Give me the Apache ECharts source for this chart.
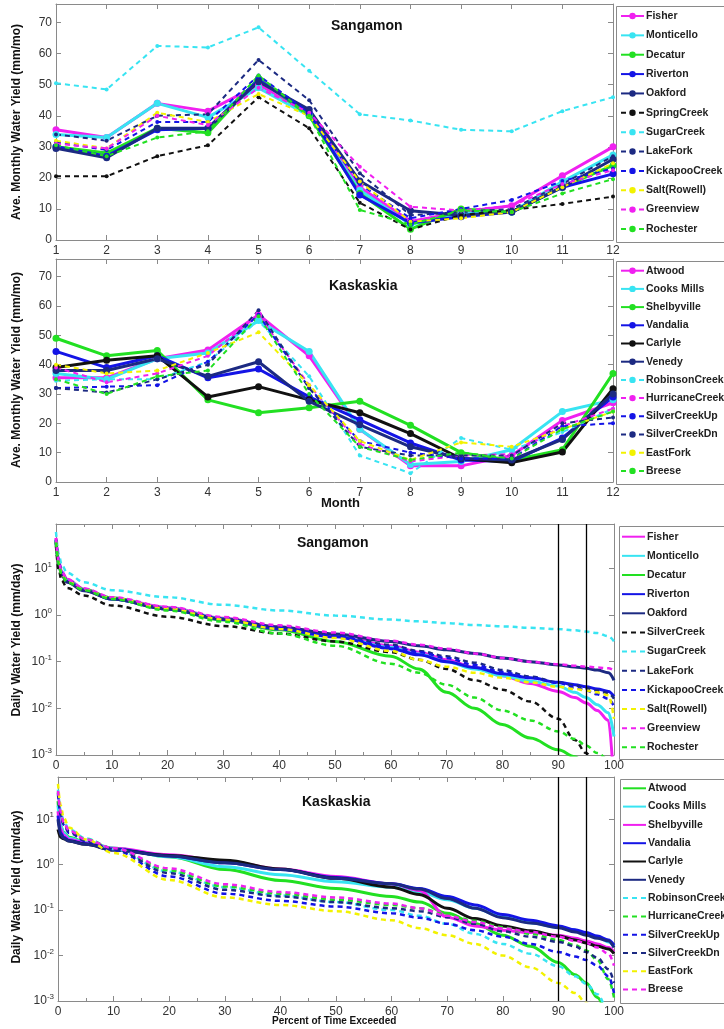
<!DOCTYPE html>
<html><head><meta charset="utf-8">
<script src="https://cdn.jsdelivr.net/npm/echarts@6/dist/echarts.min.js"></script>
<style>html,body{margin:0;padding:0;background:#fff}#c{width:724px;height:1029px}</style>
</head><body><div id="c"></div>
<script>
// ---------- Data ----------
const months = [1,2,3,4,5,6,7,8,9,10,11,12];
const monthTicks = [1,2,3,4,5,6,7,8,9,10,11,12];
const pctTicks = [0,10,20,30,40,50,60,70,80,90,100];
const markPct = [90, 95];

// Sangamon monthly (mm/mo)
const sgNames = ['Fisher','Monticello','Decatur','Riverton','Oakford','SpringCreek','SugarCreek','LakeFork','KickapooCreek','Salt(Rowell)','Greenview','Rochester'];
const sgFisher      = [35.5,33,44,41.5,50,41,17,6,9,11,20.7,30];
const sgMonticello  = [34,33,44,39.5,49,40,16,5,8.5,9,18.8,27.4];
const sgDecatur     = [30,28,36,34.5,52,40,15,3.5,10,9,17,24];
const sgRiverton    = [30,27,35.5,36,51.5,41,14.5,5.5,7.5,9,17,21.3];
const sgOakford     = [29.5,26.5,36,36,51,42,19,9.4,8,9,17,26];
const sgSpringCreek = [20.5,20.5,27,30.5,46,36,12,3.4,8,9.7,11.6,14];
const sgSugarCreek  = [50.5,48.5,62.5,62,68.5,54.5,40.5,38.5,35.5,35,41.5,46];
const sgLakeFork    = [34,32,40,40.5,58,45,21.5,8,9,10,18,27];
const sgKickapoo    = [31.5,29,38,38,53,41,18,7,10,12.9,19,23];
const sgSalt        = [32,29.5,41,38,47,40,18.8,5.9,7,9,17,24.7];
const sgGreenview   = [31,29.5,40,37,49,41,23.6,10.7,9.5,11,18,22.5];
const sgRochester   = [30.5,27,33,35,53,40,9.7,5,9.5,9,15,19.6];

// Kaskaskia monthly (mm/mo)
const kkNames = ['Atwood','Cooks Mills','Shelbyville','Vandalia','Carlyle','Venedy','RobinsonCreek','HurricaneCreek','SilverCreekUp','SilverCreekDn','EastFork','Breese'];
const kkAtwood      = [35.5,35.5,42,45,57,43,18,5.5,5.5,9,21,27];
const kkCooksMills  = [37,35,42,44,55,44.5,18,6,7,11,24,28];
const kkShelbyville = [49,43,44.8,28,23.6,25.3,27.5,19.3,10,7.4,11,37];
const kkVandalia    = [44.5,39,43,35.5,38.5,29,21.2,13.3,7.5,7,15,29];
const kkCarlyle     = [39,41.5,43,29,32.5,28,23.6,16.5,8,6.6,10.2,31.8];
const kkVenedy      = [38,38,42,36,41,27.5,19.5,12,8,7.5,14.5,30];
const kkRobinson    = [34.5,35,35,41,55,36,9,3,15,11,17,25];
const kkHurricane   = [39,34,37,43,57,33,13,7,9,9.5,19,25];
const kkSCUp        = [32,32.5,33,41,57,32,14,10,8,8,19,20];
const kkSCDn        = [32,30.5,35,40,58.5,32,12,9,9,9,20,22];
const kkEastFork    = [40,37,38,44,51,33,14,7.5,13.5,12,18,24];
const kkBreese      = [35,30,36,38,56.5,30,12,7.5,10,8,18,24];

// Flow duration: percent of time exceeded
const pct = [0,0.5,1,2,5,10,20,30,40,50,60,65,70,75,80,85,90,93,95,97,99,100];

// Sangamon daily (mm/day)
const sfNames = ['Fisher','Monticello','Decatur','Riverton','Oakford','SilverCreek','SugarCreek','LakeFork','KickapooCreek','Salt(Rowell)','Greenview','Rochester'];
const sfFisher      = [45,14,8.5,5.8,3.6,2.3,1.45,0.85,0.55,0.37,0.22,0.16,0.11,0.075,0.05,0.034,0.023,0.017,0.013,0.009,0.0055,0.0002];
const sfMonticello  = [40,13,8,5.5,3.5,2.2,1.4,0.83,0.53,0.35,0.2,0.145,0.1,0.07,0.05,0.038,0.03,0.022,0.017,0.012,0.008,0.0025];
const sfDecatur     = [38,12,7.5,5.3,3.5,2.3,1.35,0.78,0.48,0.27,0.13,0.07,0.022,0.01,0.0045,0.0023,0.0013,0.00092,0.0006,0.0004,0.0003,0.0002];
const sfRiverton    = [40,13,7.8,5.3,3.4,2.2,1.35,0.8,0.5,0.34,0.19,0.14,0.1,0.075,0.055,0.045,0.036,0.032,0.029,0.026,0.023,0.018];
const sfOakford     = [36,12,7.2,5,3.3,2.2,1.35,0.82,0.55,0.39,0.27,0.22,0.18,0.15,0.12,0.1,0.085,0.077,0.072,0.066,0.058,0.04];
const sfSilverCreek = [30,9,5.5,3.8,2.6,1.6,0.92,0.58,0.4,0.27,0.16,0.11,0.07,0.04,0.025,0.014,0.006,0.0021,0.0011,0.0005,0.0003,0.0002];
const sfSugarCreek  = [60,20,12,8,5,3.4,2.4,1.65,1.25,0.97,0.8,0.73,0.67,0.61,0.57,0.53,0.5,0.47,0.44,0.41,0.35,0.27];
const sfLakeFork    = [42,14,8.2,5.6,3.6,2.3,1.45,0.86,0.56,0.38,0.23,0.17,0.13,0.095,0.066,0.048,0.036,0.031,0.027,0.024,0.021,0.016];
const sfKickapoo    = [38,13,7.8,5.3,3.5,2.25,1.38,0.82,0.53,0.35,0.21,0.16,0.12,0.085,0.06,0.045,0.035,0.028,0.024,0.02,0.016,0.011];
const sfSalt        = [38,13,7.6,5.3,3.5,2.3,1.38,0.8,0.5,0.32,0.17,0.11,0.078,0.058,0.045,0.036,0.029,0.026,0.024,0.022,0.019,0.006];
const sfGreenview   = [44,14,8.4,5.8,3.7,2.4,1.5,0.9,0.6,0.42,0.28,0.23,0.19,0.15,0.12,0.1,0.088,0.082,0.078,0.075,0.072,0.065];
const sfRochester   = [36,12,7.2,5,3.4,2.2,1.25,0.72,0.4,0.22,0.09,0.058,0.032,0.017,0.009,0.0055,0.0032,0.0022,0.0016,0.0011,0.0008,0.0007];

// Kaskaskia daily (mm/day)
const kfNames = ['Atwood','Cooks Mills','Shelbyville','Vandalia','Carlyle','Venedy','RobinsonCreek','HurricaneCreek','SilverCreekUp','SilverCreekDn','EastFork','Breese'];
const kfAtwood      = [25,7,5.2,4,3.1,2.3,1.5,0.78,0.45,0.3,0.2,0.15,0.085,0.05,0.028,0.016,0.007,0.0038,0.0025,0.0012,0.0005,0.0003];
const kfCooksMills  = [20,7,5,3.8,3.1,2.3,1.5,0.9,0.6,0.42,0.32,0.25,0.17,0.11,0.07,0.053,0.042,0.036,0.031,0.026,0.02,0.016];
const kfShelbyville = [15,6,4.5,3.6,3,2.3,1.65,1.2,0.8,0.55,0.38,0.27,0.07,0.045,0.036,0.032,0.028,0.024,0.021,0.018,0.015,0.012];
const kfVandalia    = [12,5,4,3.4,2.9,2.2,1.55,1.1,0.78,0.52,0.38,0.3,0.2,0.13,0.08,0.06,0.045,0.037,0.032,0.027,0.022,0.017];
const kfCarlyle     = [6,4,3.7,3.3,2.8,2.1,1.6,1.25,0.8,0.5,0.32,0.22,0.11,0.065,0.045,0.035,0.027,0.022,0.019,0.016,0.014,0.011];
const kfVenedy      = [10,4.5,3.8,3.3,2.8,2.1,1.55,1.1,0.78,0.5,0.38,0.29,0.18,0.11,0.068,0.052,0.041,0.033,0.028,0.024,0.021,0.015];
const kfRobinson    = [45,15,9,6,3.8,2.2,0.7,0.32,0.21,0.15,0.1,0.075,0.05,0.03,0.018,0.011,0.0058,0.0035,0.0024,0.0014,0.0006,0.0003];
const kfHurricane   = [40,13,8,5.5,3.6,2.3,0.75,0.33,0.23,0.17,0.13,0.11,0.08,0.058,0.042,0.03,0.022,0.017,0.013,0.008,0.003,0.0012];
const kfSCUp        = [35,12,7.5,5,3.3,2.1,0.55,0.23,0.16,0.12,0.085,0.068,0.05,0.036,0.026,0.018,0.012,0.0095,0.008,0.006,0.0035,0.0015];
const kfSCDn        = [38,13,8,5.3,3.4,2.2,0.65,0.28,0.2,0.15,0.11,0.095,0.07,0.05,0.034,0.026,0.02,0.016,0.012,0.009,0.005,0.0025];
const kfEastFork    = [60,20,11,6.5,3.6,1.8,0.46,0.19,0.13,0.095,0.06,0.04,0.028,0.018,0.01,0.0055,0.0025,0.0015,0.0009,0.0005,0.0003,0.0002];
const kfBreese      = [42,14,8.5,5.6,3.6,2.3,0.83,0.37,0.25,0.19,0.14,0.11,0.075,0.055,0.04,0.033,0.026,0.021,0.019,0.015,0.011,0.006];

// ---------- Styles ----------
const C = {mag:'#f020f0', cyan:'#38e4f2', green:'#22e022', blue:'#1414e6', navy:'#1c2a82', black:'#111111', yellow:'#f2f200'};
const sgColors = [C.mag,C.cyan,C.green,C.blue,C.navy,C.black,C.cyan,C.navy,C.blue,C.yellow,C.mag,C.green];
const kkColors = [C.mag,C.cyan,C.green,C.blue,C.black,C.navy,C.cyan,C.mag,C.blue,C.navy,C.yellow,C.green];
const sfColors = [C.mag,C.cyan,C.green,C.blue,C.navy,C.black,C.cyan,C.navy,C.blue,C.yellow,C.mag,C.green];
const kfColors = [C.green,C.cyan,C.mag,C.blue,C.black,C.navy,C.cyan,C.green,C.blue,C.navy,C.yellow,C.mag];

const sgData = [sgFisher,sgMonticello,sgDecatur,sgRiverton,sgOakford,sgSpringCreek,sgSugarCreek,sgLakeFork,sgKickapoo,sgSalt,sgGreenview,sgRochester];
const kkData = [kkAtwood,kkCooksMills,kkShelbyville,kkVandalia,kkCarlyle,kkVenedy,kkRobinson,kkHurricane,kkSCUp,kkSCDn,kkEastFork,kkBreese];
const sfData = [sfFisher,sfMonticello,sfDecatur,sfRiverton,sfOakford,sfSilverCreek,sfSugarCreek,sfLakeFork,sfKickapoo,sfSalt,sfGreenview,sfRochester];
const kfData = [kfAtwood,kfCooksMills,kfShelbyville,kfVandalia,kfCarlyle,kfVenedy,kfRobinson,kfHurricane,kfSCUp,kfSCDn,kfEastFork,kfBreese];

const FONT = 'Liberation Sans, Arial, Helvetica, sans-serif';
const AX = '#8a8a8a';
const DASH = [5,4];

const grids = [
  {left:56, top:4,   width:557, height:236},
  {left:56, top:259, width:557, height:223},
  {left:56, top:524, width:558, height:231},
  {left:58, top:777, width:556, height:224}
];

const xAxes = [], yAxes = [], series = [];
function lineAxisBase(){ return {axisLine:{show:true,onZero:false,lineStyle:{color:AX,width:1}}, axisTick:{inside:true,length:5,lineStyle:{color:AX}}, splitLine:{show:false}}; }

grids.forEach((g,i)=>{
  const monthly = i<2;
  const xb = monthly ? {type:'value',min:1,max:12,interval:1} : {type:'value',min:0,max:100,interval:10, minorTick:{show:true,splitNumber:2,length:3,lineStyle:{color:AX}}};
  xAxes.push(Object.assign({gridIndex:i, position:'bottom'}, lineAxisBase(), xb, {axisLabel:{color:'#333',fontSize:12,fontFamily:FONT,margin:5}}));
  xAxes.push(Object.assign({gridIndex:i, position:'top'}, lineAxisBase(), xb, {axisLabel:{show:false}}));
  let yb;
  if (monthly) yb = {type:'value',min:0,max:76,interval:10};
  else yb = {type:'log',logBase:10,min:0.001,max:(i===2?89:85)};
  const lab = monthly ? {color:'#333',fontSize:12,fontFamily:FONT,margin:4,showMaxLabel:false}
    : {color:'#333',fontSize:12,fontFamily:FONT,margin:4,showMaxLabel:false,
       formatter:v=>'10{e|'+Math.round(Math.log10(v))+'}', rich:{e:{fontSize:8,verticalAlign:'top',padding:[0,0,8,0],fontFamily:FONT,color:'#333'}}};
  yAxes.push(Object.assign({gridIndex:i, position:'left'}, lineAxisBase(), yb, {axisLabel:lab}));
  yAxes.push(Object.assign({gridIndex:i, position:'right'}, lineAxisBase(), yb, {axisLabel:{show:false}}));
});

function addMonthly(gi, names, colors, data, suffix){
  names.forEach((n,k)=>{
    const solid = k < (gi===0?5:6);
    series.push({
      type:'line', name:n+suffix, xAxisIndex:gi*2, yAxisIndex:gi*2,
      data: months.map((m,j)=>[m, data[k][j]]),
      symbol:'circle', symbolSize: solid?7:4, showSymbol:true,
      itemStyle:{color:colors[k]},
      lineStyle:{color:colors[k], width: solid?3:2, type: solid?'solid':DASH},
      z: 2
    });
  });
}
function addFdc(gi, names, colors, data, suffix){
  const nSolid = gi===2?5:6;
  names.forEach((n,k)=>{
    const solid = k < nSolid;
    const s = {
      type:'line', name:n+suffix, xAxisIndex:gi*2, yAxisIndex:gi*2,
      data: pct.map((p,j)=>[p, data[k][j]]),
      symbol:'none', showSymbol:false, smooth:0.35, smoothMonotone:'x', clip:true,
      itemStyle:{color:colors[k]},
      lineStyle:{color:colors[k], width: solid?3:2.5, type: solid?'solid':DASH}
    };
    if (k===0) s.markLine = {silent:true, symbol:['none','none'], label:{show:false},
      lineStyle:{color:'#000',width:1.3,type:'solid'}, data: markPct.map(v=>({xAxis:v}))};
    series.push(s);
  });
}
addMonthly(0, sgNames, sgColors, sgData, '');
addMonthly(1, kkNames, kkColors, kkData, '');
addFdc(2, sfNames, sfColors, sfData, ' ');
addFdc(3, kfNames, kfColors, kfData, ' ');

function legend(names, suffix, left, top, gap, fdc){
  return {data:names.map(n=>({name:n+suffix})), orient:'vertical', left:left, top:top, padding:0, itemGap:gap,
    itemWidth:23, itemHeight: fdc?10:8, selectedMode:false,
    itemStyle: fdc?{opacity:0}:{},
    textStyle:{fontSize:10.5,fontWeight:'bold',fontFamily:FONT,color:'#222',lineHeight:12,padding:[0,0,0,-3]}};
}

const titleStyle = {fontFamily:FONT,fontWeight:'bold',fontSize:14,color:'#111'};
const option = {
  animation:false,
  backgroundColor:'#fff',
  grid: grids,
  xAxis: xAxes,
  yAxis: yAxes,
  series: series,
  legend: [
    legend(sgNames,'',620,10,7.36,false),
    legend(kkNames,'',620,264.7,6.2,false),
    legend(sfNames,' ',621,530.7,7.15,true),
    legend(kfNames,' ',622,782.3,6.3,true)
  ],
  title: [
    {text:'Sangamon', left:331, top:19, padding:0, textStyle:titleStyle},
    {text:'Kaskaskia', left:329, top:279, padding:0, textStyle:titleStyle},
    {text:'Sangamon', left:297, top:536, padding:0, textStyle:titleStyle},
    {text:'Kaskaskia', left:302, top:795, padding:0, textStyle:titleStyle},
    {text:'Month', left:321, top:497, padding:0, textStyle:{fontFamily:FONT,fontWeight:'bold',fontSize:13,color:'#111'}},
    {text:'Percent of Time Exceeded', left:272, top:1016, padding:0, textStyle:{fontFamily:FONT,fontWeight:'bold',fontSize:10,color:'#111'}}
  ],
  graphic: [
    {type:'rect', left:614, top:4, shape:{width:130,height:236}, style:{fill:'none',stroke:AX,lineWidth:1}, z:-1},
    {type:'rect', left:614, top:259, shape:{width:130,height:223}, style:{fill:'none',stroke:AX,lineWidth:1}, z:-1},
    {type:'rect', left:617, top:524, shape:{width:130,height:233}, style:{fill:'none',stroke:AX,lineWidth:1}, z:-1},
    {type:'rect', left:618, top:777, shape:{width:130,height:224}, style:{fill:'none',stroke:AX,lineWidth:1}, z:-1},
    {type:'text', x:17, y:122, rotation:Math.PI/2, style:{text:'Ave. Monthly Water Yield (mm/mo)', font:'bold 12px '+FONT, fill:'#111', textAlign:'center', textVerticalAlign:'middle'}},
    {type:'text', x:17, y:370, rotation:Math.PI/2, style:{text:'Ave. Monthly Water Yield (mm/mo)', font:'bold 12px '+FONT, fill:'#111', textAlign:'center', textVerticalAlign:'middle'}},
    {type:'text', x:17, y:640, rotation:Math.PI/2, style:{text:'Daily Water Yield (mm/day)', font:'bold 12px '+FONT, fill:'#111', textAlign:'center', textVerticalAlign:'middle'}},
    {type:'text', x:17, y:887, rotation:Math.PI/2, style:{text:'Daily Water Yield (mm/day)', font:'bold 12px '+FONT, fill:'#111', textAlign:'center', textVerticalAlign:'middle'}}
  ]
};
const chart = echarts.init(document.getElementById('c'), null, {renderer:'canvas'});
chart.setOption(option);
</script></body></html>
